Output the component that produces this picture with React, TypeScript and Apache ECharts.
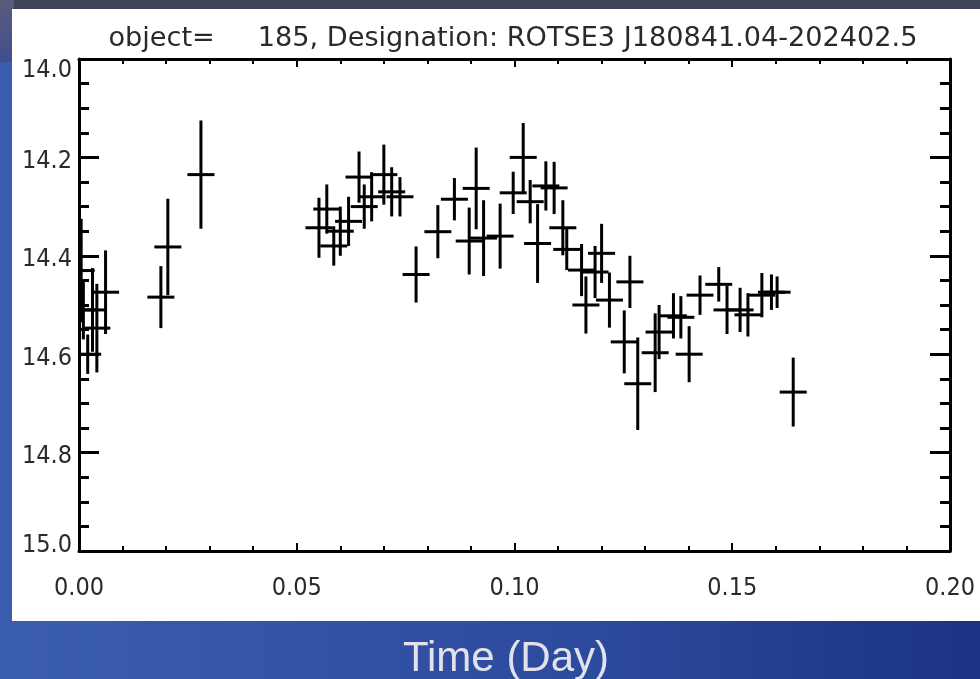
import React, { useEffect, useRef } from 'react';
import * as echarts from 'echarts';

const TITLE = 'object=     185, Designation: ROTSE3 J180841.04-202402.5';
const X_TITLE = 'Time (Day)';

const times = [
  0.0005, 0.0010, 0.0020, 0.0031, 0.0041, 0.0061, 0.0188, 0.0204, 0.0280,
  0.0551, 0.0569, 0.0585, 0.0600, 0.0619, 0.0643, 0.0655, 0.0672, 0.0700, 0.0718, 0.0737,
  0.0774, 0.0824, 0.0862, 0.0896, 0.0912, 0.0929, 0.0967, 0.0997, 0.1020, 0.1036,
  0.1053, 0.1072, 0.1091, 0.1111, 0.1120, 0.1154, 0.1164, 0.1185, 0.1200, 0.1218,
  0.1252, 0.1265, 0.1283, 0.1323, 0.1332, 0.1365, 0.1382, 0.1401, 0.1426, 0.1469,
  0.1488, 0.1518, 0.1536, 0.1568, 0.1590, 0.1603, 0.1640,
];
const mags = [
  14.43, 14.51, 14.60, 14.51, 14.547, 14.474, 14.484, 14.382, 14.235,
  14.343, 14.305, 14.38, 14.35, 14.33, 14.24, 14.30, 14.28, 14.235, 14.27, 14.28,
  14.438, 14.351, 14.285, 14.37, 14.263, 14.364, 14.36, 14.272, 14.20, 14.29,
  14.375, 14.258, 14.262, 14.343, 14.387, 14.429, 14.50, 14.433, 14.395, 14.49,
  14.575, 14.453, 14.66, 14.597, 14.555, 14.522, 14.525, 14.60, 14.48, 14.458,
  14.51, 14.51, 14.52, 14.48, 14.474, 14.474, 14.677,
];
const magErrs = [
  0.105, 0.06, 0.04, 0.085, 0.09, 0.085, 0.063, 0.098, 0.11,
  0.061, 0.05, 0.04, 0.05, 0.05, 0.052, 0.045, 0.05, 0.061, 0.05, 0.04,
  0.057, 0.054, 0.043, 0.068, 0.083, 0.077, 0.066, 0.043, 0.07, 0.044,
  0.08, 0.05, 0.053, 0.056, 0.042, 0.053, 0.058, 0.053, 0.06, 0.056,
  0.064, 0.053, 0.094, 0.08, 0.055, 0.046, 0.043, 0.057, 0.04, 0.035,
  0.049, 0.045, 0.044, 0.045, 0.036, 0.032, 0.07,
];
const TIME_ERR = 0.0031;

const xTicks = [0, 0.05, 0.1, 0.15, 0.2];
const yTicks = [14.0, 14.2, 14.4, 14.6, 14.8, 15.0];

const FONT = '"DejaVu Sans Condensed", "DejaVu Sans", sans-serif';

export default function App() {
  const ref = useRef<HTMLDivElement>(null);
  useEffect(() => {
    const chart = echarts.init(ref.current!, null, { renderer: 'svg' });
    const data = times.map((t, i) => [t, mags[i], magErrs[i]]);
    const xMin = xTicks[0], xMax = xTicks[xTicks.length - 1];
    const yMin = yTicks[0], yMax = yTicks[yTicks.length - 1];

    const axisLine = { onZero: false, lineStyle: { color: '#000', width: 3 } };
    const xCommon = {
      type: 'value', min: xMin, max: xMax, interval: 0.05,
      axisLine,
      axisTick: { inside: true, length: 8, lineStyle: { color: '#000', width: 2 } },
      minorTick: { show: true, splitNumber: 5, length: 5, lineStyle: { color: '#000', width: 2 } },
      splitLine: { show: false },
      minorSplitLine: { show: false },
    };
    const yCommon = {
      type: 'value', inverse: true, min: yMin, max: yMax, interval: 0.2,
      axisLine,
      axisTick: { inside: true, length: 20, lineStyle: { color: '#000', width: 3 } },
      minorTick: { show: true, splitNumber: 4, length: 10, lineStyle: { color: '#000', width: 3 } },
      splitLine: { show: false },
      minorSplitLine: { show: false },
    };
    const labelStyle = { fontFamily: FONT, fontSize: 25, color: '#2a2a2a' };

    const option: any = {
      animation: false,
      graphic: [
        {
          type: 'rect', z: -20, silent: true,
          shape: { x: 0, y: 0, width: 980, height: 679 },
          style: {
            fill: {
              type: 'linear', x: 0, y: 0, x2: 1, y2: 0,
              colorStops: [
                { offset: 0, color: '#3b5db0' },
                { offset: 0.6, color: '#2c4a9e' },
                { offset: 1, color: '#1b3382' },
              ],
            },
          },
        },
        {
          type: 'rect', z: -19, silent: true,
          shape: { x: 0, y: 0, width: 980, height: 9 },
          style: { fill: '#3d4359' },
        },
        {
          type: 'rect', z: -19, silent: true,
          shape: { x: 0, y: 0, width: 14, height: 62 },
          style: {
            fill: {
              type: 'linear', x: 0, y: 0, x2: 0, y2: 1,
              colorStops: [
                { offset: 0, color: '#5a5c7a' },
                { offset: 1, color: '#3f4f8e' },
              ],
            },
          },
        },
        {
          type: 'rect', z: -18, silent: true,
          shape: { x: 12, y: 9, width: 968, height: 612 },
          style: { fill: '#ffffff' },
        },
        {
          type: 'text', z: 100, silent: true,
          x: 513, y: 37, scaleX: 1.16,
          style: {
            text: TITLE, x: 0, y: 0, align: 'center', verticalAlign: 'middle',
            fontFamily: FONT, fontSize: 26, fill: '#2a2a2a',
          },
        },
        {
          type: 'text', z: 100, silent: true,
          style: {
            text: X_TITLE, x: 506, y: 656, align: 'center', verticalAlign: 'middle',
            fontFamily: '"Liberation Sans", Arial, sans-serif', fontSize: 42, fill: '#e2e2ea',
          },
        },
      ],
      grid: { left: 79, top: 59, width: 871, height: 492, containLabel: false },
      xAxis: [
        {
          ...xCommon, position: 'bottom',
          axisLabel: { ...labelStyle, margin: 23, formatter: (v: number) => v.toFixed(2) },
        },
        { ...xCommon, position: 'top', axisLabel: { show: false } },
      ],
      yAxis: [
        {
          ...yCommon, position: 'left',
          axisLabel: {
            ...labelStyle, margin: 7,
            formatter: (v: number) => {
              const s = v.toFixed(1);
              if (Math.abs(v - yMin) < 1e-6) return `{t|${s}}`;
              if (Math.abs(v - yMax) < 1e-6) return `{b|${s}}`;
              return `{n|${s}}`;
            },
            rich: {
              t: { ...labelStyle, padding: [18, 0, 0, 0] },
              b: { ...labelStyle, padding: [0, 0, 16, 0] },
              n: { ...labelStyle, padding: [4, 0, 0, 0] },
            },
          },
        },
        { ...yCommon, position: 'right', axisLabel: { show: false } },
      ],
      series: [
        {
          type: 'custom',
          xAxisIndex: 0,
          yAxisIndex: 0,
          clip: true,
          data,
          encode: { x: 0, y: 1 },
          renderItem: (params: any, api: any) => {
            const t = api.value(0), m = api.value(1), e = api.value(2);
            const l = api.coord([t - TIME_ERR, m]);
            const r = api.coord([t + TIME_ERR, m]);
            const a = api.coord([t, m - e]);
            const b = api.coord([t, m + e]);
            const style = { stroke: '#000', lineWidth: 3, fill: null };
            return {
              type: 'group',
              children: [
                { type: 'line', shape: { x1: l[0], y1: l[1], x2: r[0], y2: r[1] }, style },
                { type: 'line', shape: { x1: a[0], y1: a[1], x2: b[0], y2: b[1] }, style },
              ],
            };
          },
          z: 10,
        },
      ],
    };
    chart.setOption(option);
    return () => chart.dispose();
  }, []);
  return <div ref={ref} style={{ position: 'fixed', left: 0, top: 0, width: 980, height: 679 }} />;
}
